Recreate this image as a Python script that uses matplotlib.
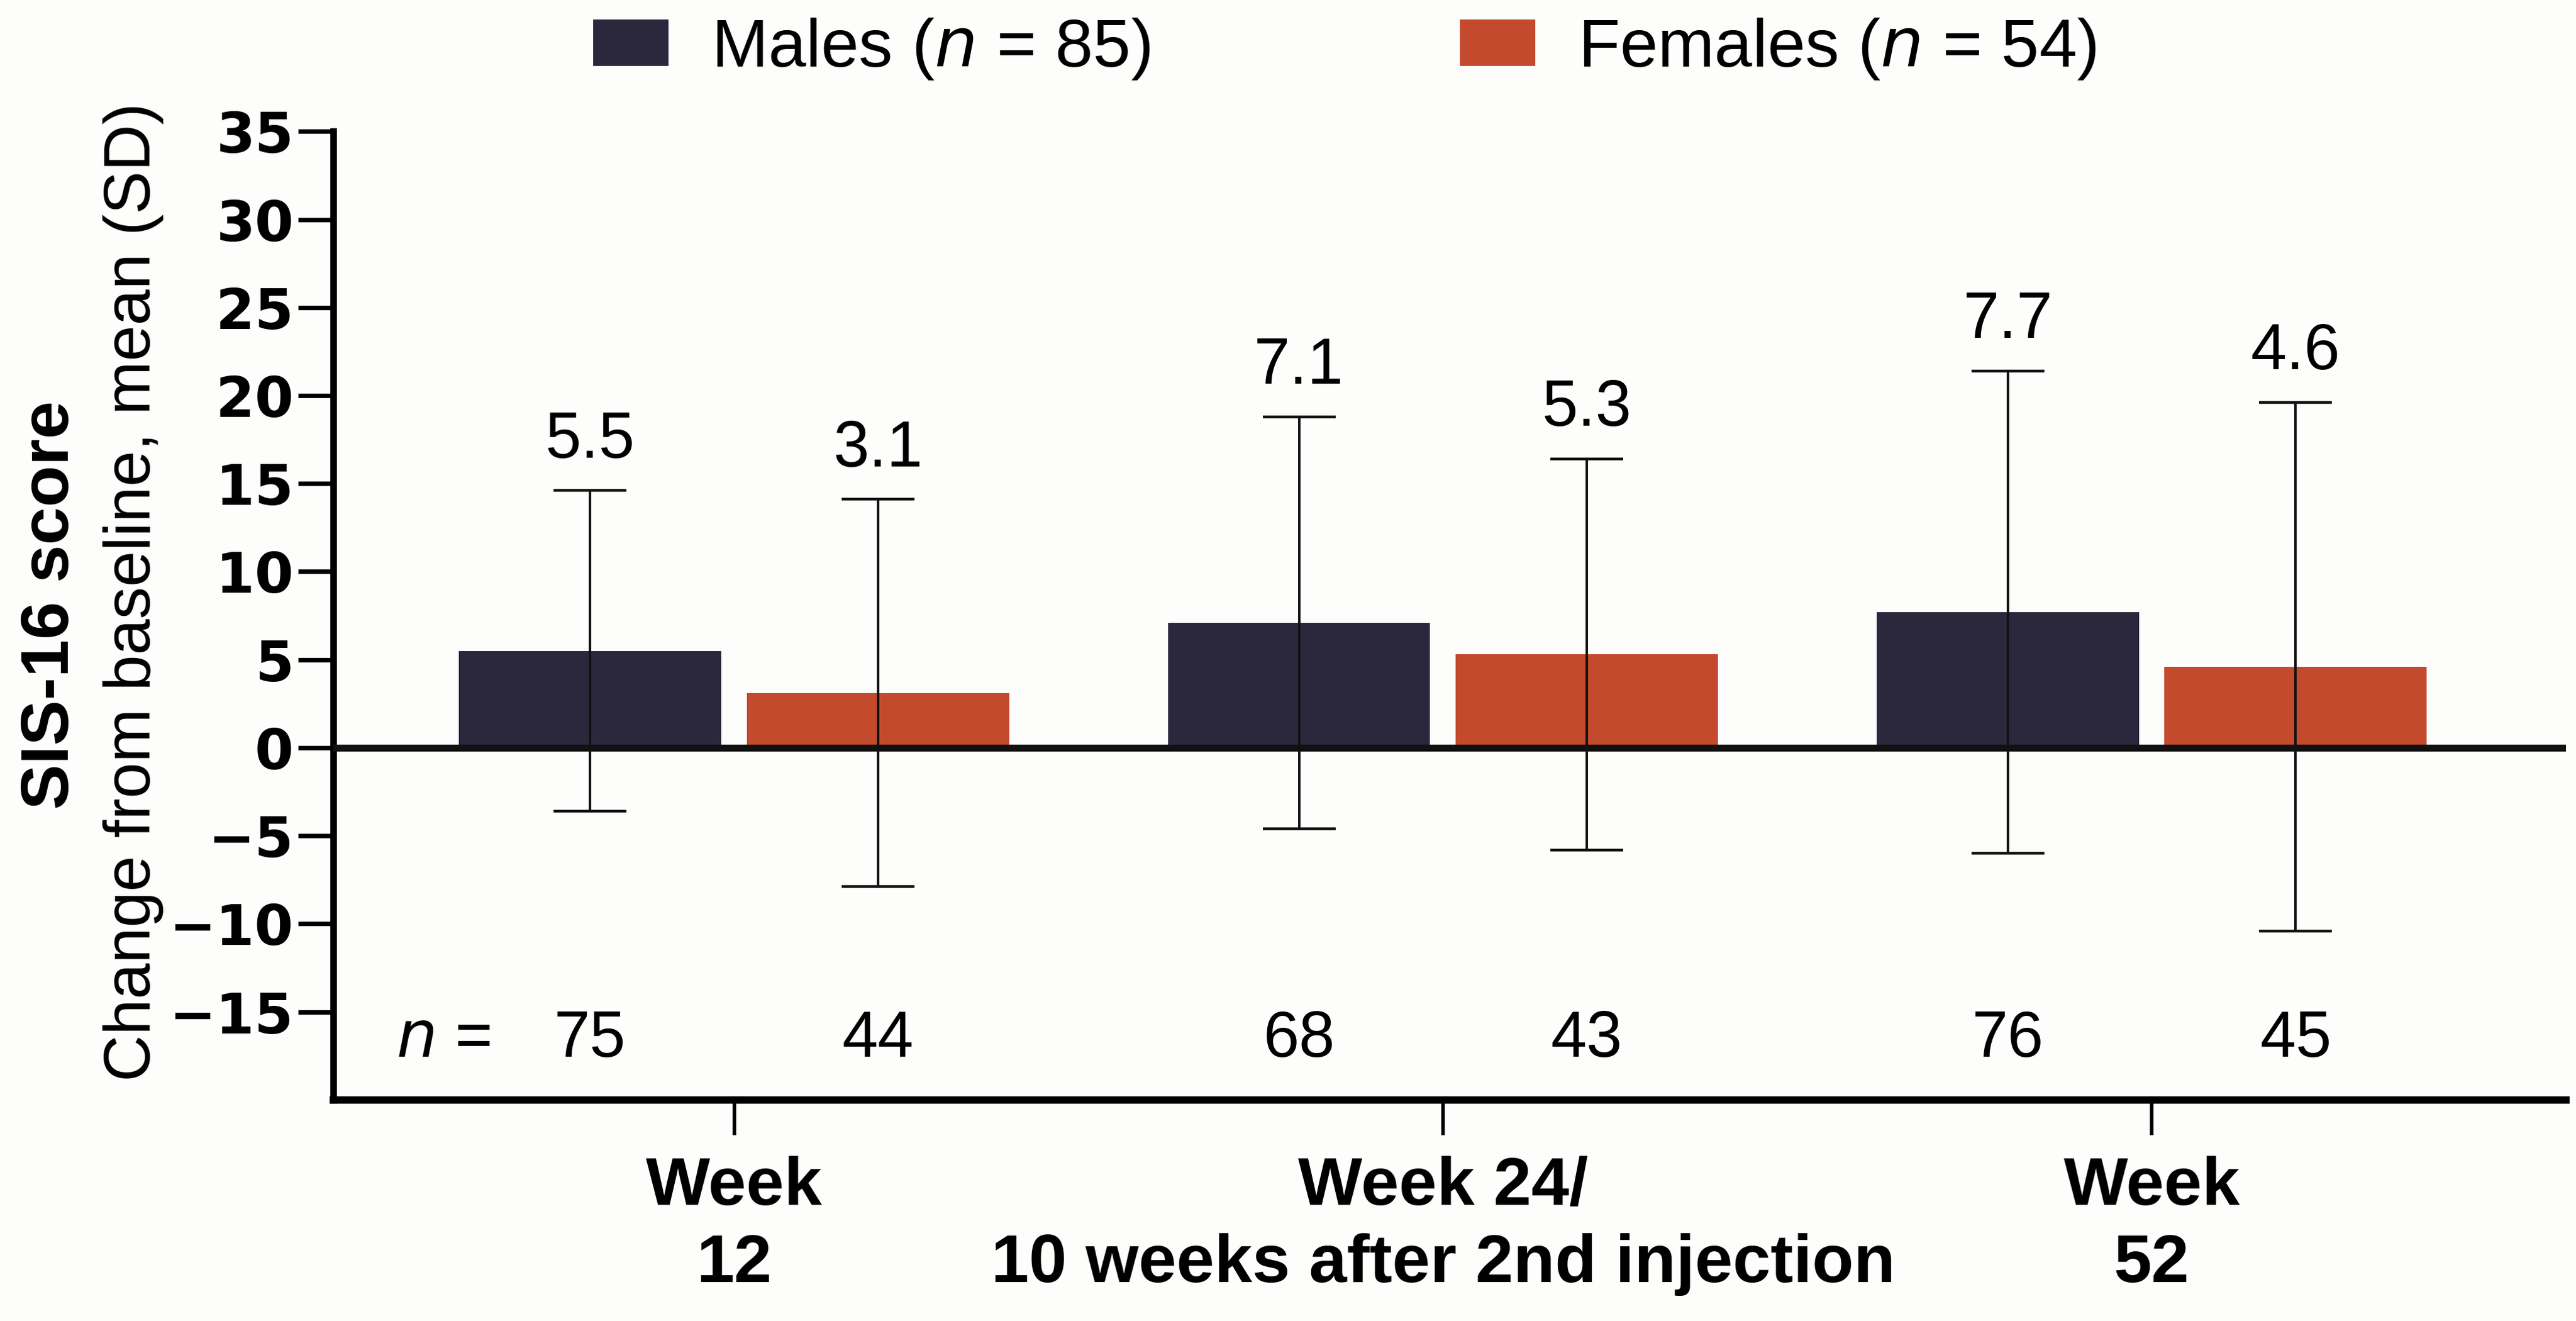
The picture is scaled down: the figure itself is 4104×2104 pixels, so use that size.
import matplotlib
matplotlib.use("Agg")
import matplotlib.pyplot as plt
import numpy as np
from matplotlib.patches import Patch

plt.rcParams['font.family'] = ['Liberation Sans', 'DejaVu Sans']

groups = ["Week\n12", "Week 24/\n10 weeks after 2nd injection", "Week\n52"]
male_mean = [5.5, 7.1, 7.7]
male_sd = [9.1, 11.7, 13.7]
female_mean = [3.1, 5.3, 4.6]
female_sd = [11.0, 11.1, 15.0]
male_n = [75, 68, 76]
female_n = [44, 43, 45]
yticks = [-15, -10, -5, 0, 5, 10, 15, 20, 25, 30, 35]
legend_labels = ["Males ($\\it{n}$ = 85)", "Females ($\\it{n}$ = 54)"]

male_color = "#2b283e"
female_color = "#c44a2d"

fig = plt.figure(figsize=(20.52, 10.52), dpi=200)
fig.patch.set_facecolor("#fdfdfc")
ax = fig.add_axes([0.1295, 0.1674, 0.8665, 0.7331])
ax.set_facecolor("#fdfdfc")

x = np.arange(len(groups))
off = 0.203
w = 0.37
ax.bar(x - off, male_mean, width=w, color=male_color, zorder=2)
ax.bar(x + off, female_mean, width=w, color=female_color, zorder=2)
ax.errorbar(x - off, male_mean, yerr=male_sd, fmt='none', ecolor='#111111',
            elinewidth=1.4, capsize=21, capthick=1.6, zorder=4)
ax.errorbar(x + off, female_mean, yerr=female_sd, fmt='none', ecolor='#111111',
            elinewidth=1.4, capsize=21, capthick=1.6, zorder=4)
ax.axhline(0, color='#111111', lw=4.0, zorder=3)

fs_val = 37
for xi, m, s in zip(x - off, male_mean, male_sd):
    ax.text(xi, m + s + 1.1, f"{m}", ha='center', va='bottom', fontsize=fs_val)
for xi, m, s in zip(x + off, female_mean, female_sd):
    ax.text(xi, m + s + 1.1, f"{m}", ha='center', va='bottom', fontsize=fs_val)

ax.text(-0.41, -16.6, "$\\it{n}$ =", ha='center', va='center', fontsize=37)
for xi, n in zip(x - off, male_n):
    ax.text(xi, -16.6, str(n), ha='center', va='center', fontsize=37)
for xi, n in zip(x + off, female_n):
    ax.text(xi, -16.6, str(n), ha='center', va='center', fontsize=37)

ax.set_xlim(-0.565, 2.584)
ax.set_ylim(-20, 35)
ax.set_yticks(yticks)
ax.set_yticklabels([("\u2212" + str(-t)) if t < 0 else str(t) for t in yticks],
                   fontsize=32, fontweight='bold', family=['DejaVu Sans'])
ax.set_xticks(x)
ax.set_xticklabels(groups, fontsize=39, fontweight='bold', linespacing=1.3)
ax.tick_params(axis='y', length=20, width=2.6, pad=3)
ax.tick_params(axis='x', length=20, width=2.0, pad=12)

for sp in ['top', 'right']:
    ax.spines[sp].set_visible(False)
ax.spines['left'].set_linewidth(3.8)
ax.spines['bottom'].set_linewidth(4.2)
ax.spines['left'].set_bounds(-20, 35)

fig.text(0.0198, 0.542, "SIS-16 score", rotation=90, ha='center', va='center',
         fontsize=39, fontweight='bold')
fig.text(0.0517, 0.552, "Change from baseline, mean (SD)", rotation=90,
         ha='center', va='center', fontsize=37)

handles = [Patch(facecolor=male_color), Patch(facecolor=female_color)]
fig.legend(handles, legend_labels, loc='center', bbox_to_anchor=(0.522, 0.963),
           ncol=2, frameon=False, fontsize=39, handlelength=1.11, handleheight=0.68,
           handletextpad=0.63, columnspacing=4.55)

fig.savefig("out.png", dpi=200, facecolor=fig.get_facecolor())
